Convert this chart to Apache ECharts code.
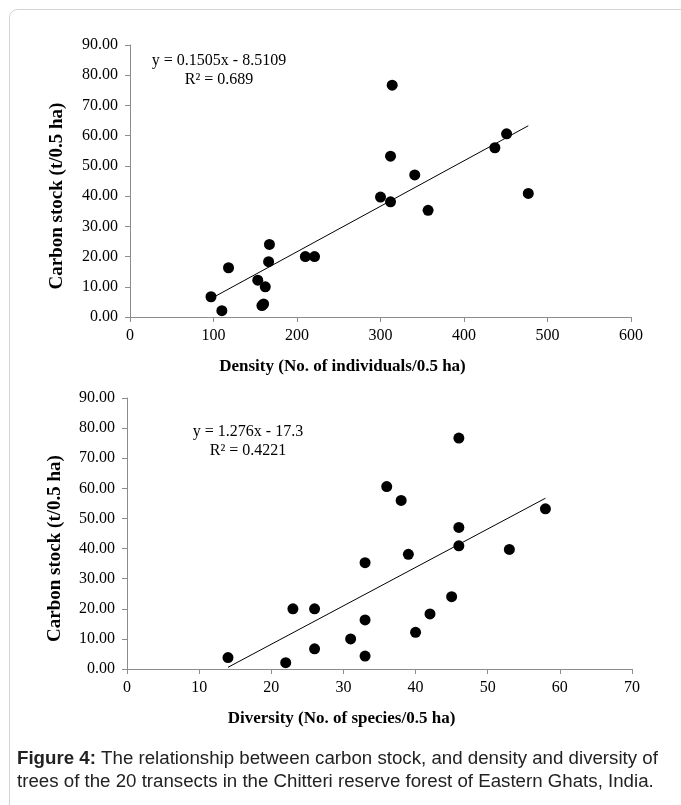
<!DOCTYPE html>
<html>
<head>
<meta charset="utf-8">
<script src="https://cdn.jsdelivr.net/npm/echarts@6/dist/echarts.min.js"></script>
<style>
  html, body { margin: 0; padding: 0; background: #fff; }
  #chart { width: 681px; height: 805px; }
</style>
</head>
<body>
<div id="chart"></div>
<script>
// carbon stock per transect (t/0.5 ha)
const carbonStock = [6.7, 2.1, 16.3, 12.2, 3.8, 4.3, 10.0, 18.3, 24.0, 20.0,
                     20.0, 76.7, 53.2, 47.0, 39.7, 38.1, 35.3, 56.0, 60.6, 40.9];
// density (no. of individuals / 0.5 ha)
const density = [97, 110, 118, 153, 158, 160, 162, 166, 167, 210,
                 221, 314, 312, 341, 300, 312, 357, 437, 451, 477];
// diversity (no. of species / 0.5 ha)
const diversity = [26, 22, 33, 40, 14, 33, 31, 42, 45, 23,
                   26, 46, 58, 46, 53, 39, 33, 38, 36, 46];

// trendline slope / intercept from the figure
const densityFit = [0.1505, -8.5109];
const diversityFit = [1.276, -17.3];

const densityTicks = [0, 100, 200, 300, 400, 500, 600];
const diversityTicks = [0, 10, 20, 30, 40, 50, 60, 70];

const serif = '"Liberation Serif", "Times New Roman", serif';
const axisGray = '#8c8c8c';

function pairs(xs, ys) {
  return xs.map((x, i) => [x, ys[i]]);
}
function fitLine(xs, fit) {
  const lo = Math.min(...xs), hi = Math.max(...xs);
  return [[lo, fit[0] * lo + fit[1]], [hi, fit[0] * hi + fit[1]]];
}

function xAxisFor(grid, ticks, name) {
  return {
    type: 'value', gridIndex: grid,
    min: ticks[0], max: ticks[ticks.length - 1], interval: ticks[1] - ticks[0],
    name: name, nameLocation: 'middle', nameGap: 41,
    // title sits left of the plot centre, as in the original
    nameTextStyle: { fontFamily: serif, fontSize: 17, fontWeight: 'bold', color: '#000',
                     padding: [0, 76, 0, 0] },
    axisLine: { show: true, lineStyle: { color: axisGray, width: 1 } },
    axisTick: { show: true, length: 5, lineStyle: { color: axisGray } },
    axisLabel: { fontFamily: serif, fontSize: 16, color: '#000', margin: 11 },
    splitLine: { show: false }
  };
}
function yAxisFor(grid, gap) {
  return {
    type: 'value', gridIndex: grid, min: 0, max: 90, interval: 10,
    name: 'Carbon stock (t/0.5 ha)', nameLocation: 'middle', nameGap: gap,
    nameTextStyle: { fontFamily: serif, fontSize: 19, fontWeight: 'bold', color: '#000',
                     padding: [0, 30, 0, 0] },
    axisLine: { show: true, lineStyle: { color: axisGray, width: 1 } },
    axisTick: { show: true, length: 5, lineStyle: { color: axisGray } },
    axisLabel: { fontFamily: serif, fontSize: 16, color: '#000', margin: 12,
                 formatter: v => v.toFixed(2) },
    splitLine: { show: false }
  };
}

const chart = echarts.init(document.getElementById('chart'));

chart.setOption({
  backgroundColor: '#fff',
  animation: false,
  grid: [
    { left: 130, top: 45, width: 501, height: 272 },
    { left: 127, top: 398, width: 505, height: 271 }
  ],
  xAxis: [
    xAxisFor(0, densityTicks, 'Density (No. of individuals/0.5 ha)'),
    xAxisFor(1, diversityTicks, 'Diversity (No. of species/0.5 ha)')
  ],
  yAxis: [yAxisFor(0, 63), yAxisFor(1, 62)],
  series: [
    {
      type: 'scatter', xAxisIndex: 0, yAxisIndex: 0,
      data: pairs(density, carbonStock),
      symbolSize: 11, itemStyle: { color: '#000', opacity: 1 }
    },
    {
      type: 'line', xAxisIndex: 0, yAxisIndex: 0,
      data: fitLine(density, densityFit),
      symbol: 'none', lineStyle: { color: '#000', width: 1 }
    },
    {
      type: 'scatter', xAxisIndex: 1, yAxisIndex: 1,
      data: pairs(diversity, carbonStock),
      symbolSize: 11, itemStyle: { color: '#000', opacity: 1 }
    },
    {
      type: 'line', xAxisIndex: 1, yAxisIndex: 1,
      data: fitLine(diversity, diversityFit),
      symbol: 'none', lineStyle: { color: '#000', width: 1 }
    }
  ],
  graphic: [
    {
      type: 'rect', silent: true,
      shape: { x: 9.5, y: 9.5, width: 720, height: 840, r: 8 },
      style: { fill: 'none', stroke: '#d3d3d3', lineWidth: 1 }
    },
    {
      type: 'text', x: 219, y: 70,
      style: { text: 'y = 0.1505x - 8.5109\nR² = 0.689', align: 'center', verticalAlign: 'middle',
               font: '16px ' + serif, lineHeight: 19, fill: '#000' }
    },
    {
      type: 'text', x: 248, y: 441,
      style: { text: 'y = 1.276x - 17.3\nR² = 0.4221', align: 'center', verticalAlign: 'middle',
               font: '16px ' + serif, lineHeight: 19, fill: '#000' }
    },
    {
      type: 'text', x: 17, y: 770,
      style: {
        text: '{b|Figure 4:} The relationship between carbon stock, and density and diversity of\n' +
              'trees of the 20 transects in the Chitteri reserve forest of Eastern Ghats, India.',
        verticalAlign: 'middle',
        fontFamily: '"Liberation Sans", Arial, sans-serif', fontSize: 18.7, lineHeight: 23,
        fill: '#222',
        rich: { b: { fontWeight: 'bold', fontFamily: '"Liberation Sans", Arial, sans-serif',
                     fontSize: 18.7, fill: '#222' } }
      }
    }
  ]
});
</script>
</body>
</html>
